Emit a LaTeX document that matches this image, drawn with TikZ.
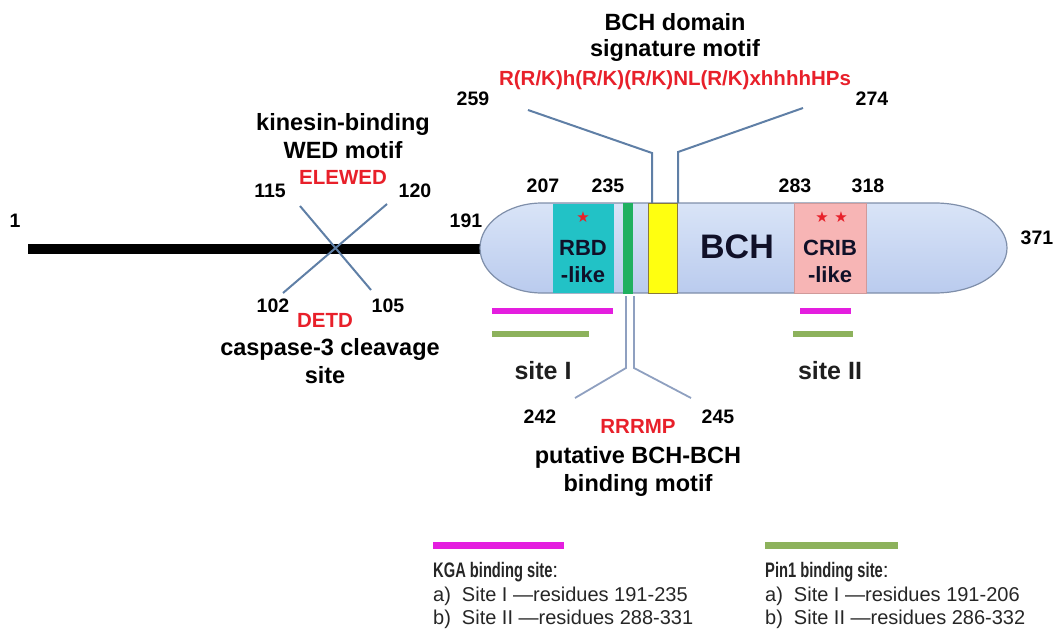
\documentclass[tikz,border=0pt]{standalone}
\usepackage{fontspec}
\setmainfont{Liberation Sans}
\newfontfamily\symfont{DejaVu Sans}
\usepackage{graphicx}
\definecolor{capTop}{HTML}{D9E4F7}
\definecolor{capBot}{HTML}{BACBEE}
\definecolor{capEdge}{HTML}{7F8FAA}
\definecolor{rbd}{HTML}{22C2C6}
\definecolor{gbar}{HTML}{20B060}
\definecolor{ybox}{HTML}{FFFF10}
\definecolor{yedge}{HTML}{8A7A3A}
\definecolor{crib}{HTML}{F7B5B5}
\definecolor{cribEdge}{HTML}{D09A9A}
\definecolor{conn}{HTML}{5F7FA6}
\definecolor{connLight}{HTML}{8FA0C0}
\definecolor{motifRed}{HTML}{E8202A}
\definecolor{kgaMagenta}{HTML}{E41EDF}
\definecolor{pinGreen}{HTML}{8DB25C}
\definecolor{bchText}{HTML}{101028}
\newcommand\myfs[1]{\fontsize{#1}{#1}\selectfont}
\begin{document}
\begin{tikzpicture}[x=1pt,y=-1pt,
  num/.style={font=\myfs{19.5}\bfseries, inner sep=0pt, anchor=base},
  ttl/.style={font=\myfs{23.5}\bfseries, inner sep=0pt, anchor=base},
  motif/.style={font=\myfs{20.5}\bfseries, text=motifRed, inner sep=0pt, anchor=base},
  dom/.style={font=\myfs{22}\bfseries, inner sep=0pt, anchor=base, text=bchText},
  sitelbl/.style={font=\myfs{25}\bfseries, inner sep=0pt, anchor=base, text=black!88},
  starlbl/.style={font=\myfs{15}\symfont, text=motifRed, inner sep=0pt},
  conline/.style={draw=conn, line width=2pt},
  conlight/.style={draw=connLight, line width=1.8pt},
  sitebar/.style={line width=6pt},
  legtitle/.style={font=\myfs{21}, inner sep=0pt, anchor=base west, text=black!85},
  legline/.style={font=\myfs{20}, inner sep=0pt, anchor=base west, text=black!85},
]
\useasboundingbox (0,0) rectangle (1059,637);
% backbone
\coordinate (bbStart) at (28,249);
\coordinate (bbEnd) at (500,249);
\draw[line width=10pt, black] (bbStart) -- (bbEnd);
% capsule (BCH domain)
\path[top color=capTop, bottom color=capBot, draw=capEdge, line width=1.2pt]
  (542,203) -- (935,203) arc[start angle=90, end angle=-90, x radius=72pt, y radius=45pt]
  -- (542,293) arc[start angle=270, end angle=90, x radius=62pt, y radius=45pt] -- cycle;
% inner boxes
\node[fill=rbd, minimum width=61pt, minimum height=89pt, inner sep=0pt, anchor=north west] (rbdbox) at (553,203.5) {};
\node[fill=gbar, minimum width=10pt, minimum height=91pt, inner sep=0pt, anchor=north west] (gbarbox) at (623,203) {};
\node[fill=ybox, draw=yedge, line width=1pt, minimum width=29pt, minimum height=90pt, inner sep=0pt, anchor=north west] (ybox) at (648,203) {};
\node[fill=crib, draw=cribEdge, line width=0.8pt, minimum width=72pt, minimum height=90pt, inner sep=0pt, anchor=north west] (cribbox) at (794,203) {};
% domain labels
\node[dom] (rbdA) at (583,255) {RBD};
\node[dom] (rbdB) at (583,282) {-like};
\node[dom] (cribA) at (830,255) {CRIB};
\node[dom] (cribB) at (830,282) {-like};
\node[font=\myfs{34}\bfseries, inner sep=0pt, anchor=base, text=bchText] (bch) at (737,258) {BCH};
\node[starlbl] (star1) at (583,217) {★};
\node[starlbl] (star2) at (822,217) {★};
\node[starlbl] (star3) at (841,217) {★};
% residue numbers
\node[num] (n1) at (15,227) {1};
\node[num] (n191) at (466,227) {191};
\node[num] (n371) at (1037,244) {371};
\node[num] (n207) at (543,192) {207};
\node[num] (n235) at (608,192) {235};
\node[num] (n283) at (795,192) {283};
\node[num] (n318) at (868,192) {318};
\node[num] (n259) at (473,105) {259};
\node[num] (n274) at (872,105) {274};
\node[num] (n115) at (270,197) {115};
\node[num] (n120) at (415,197) {120};
\node[num] (n102) at (273,312) {102};
\node[num] (n105) at (388,312) {105};
\node[num] (n242) at (540,423) {242};
\node[num] (n245) at (718,423) {245};
% kinesin-binding motif
\node[ttl] (kinA) at (343,130.5) {kinesin-binding};
\node[ttl] (kinB) at (343,158.5) {WED motif};
\node[motif] (elewed) at (343,184) {ELEWED};
\coordinate (k1) at (300,206);
\coordinate (k2) at (371,290);
\coordinate (k3) at (387,204);
\coordinate (k4) at (283,293);
\draw[conline] (k1) -- (k2);
\draw[conline] (k3) -- (k4);
% caspase site
\node[motif] (detd) at (325,327) {DETD};
\node[ttl] (casA) at (330,355.5) {caspase-3 cleavage};
\node[ttl] (casB) at (325,383) {site};
% BCH signature motif
\node[ttl] (sigA) at (675,30.5) {BCH domain};
\node[ttl] (sigB) at (675,56.5) {signature motif};
\node[motif] (sigM) at (675,85) {R(R/K)h(R/K)(R/K)NL(R/K)xhhhhHPs};
\coordinate (s1) at (528,110);
\coordinate (s2) at (652,153);
\coordinate (s3) at (652,203);
\coordinate (s4) at (803,108);
\coordinate (s5) at (678,152);
\coordinate (s6) at (678,203);
\draw[conline] (s1) -- (s2) -- (s3);
\draw[conline] (s4) -- (s5) -- (s6);
% putative BCH-BCH binding motif
\coordinate (p1) at (626,296);
\coordinate (p2) at (626,368);
\coordinate (p3) at (575,398);
\coordinate (p4) at (634,296);
\coordinate (p5) at (634,368);
\coordinate (p6) at (691,398);
\draw[conlight] (p1) -- (p2) -- (p3);
\draw[conlight] (p4) -- (p5) -- (p6);
\node[motif] (rrrmp) at (638,433) {RRRMP};
\node[ttl] (putA) at (638,463.5) {putative BCH-BCH};
\node[ttl] (putB) at (638,491.5) {binding motif};
% binding site bars
\coordinate (kI1) at (492,311); \coordinate (kI2) at (613,311);
\coordinate (pI1) at (492,334); \coordinate (pI2) at (589,334);
\coordinate (kII1) at (800,311); \coordinate (kII2) at (851,311);
\coordinate (pII1) at (793,334); \coordinate (pII2) at (853,334);
\draw[sitebar, draw=kgaMagenta] (kI1) -- (kI2);
\draw[sitebar, draw=pinGreen] (pI1) -- (pI2);
\draw[sitebar, draw=kgaMagenta] (kII1) -- (kII2);
\draw[sitebar, draw=pinGreen] (pII1) -- (pII2);
\node[sitelbl] (siteI) at (543,379) {site I};
\node[sitelbl] (siteII) at (830,379) {site II};
% legend
\coordinate (lk1) at (433,545); \coordinate (lk2) at (564,545);
\coordinate (lp1) at (765,545); \coordinate (lp2) at (898,545);
\draw[line width=7pt, draw=kgaMagenta] (lk1) -- (lk2);
\draw[line width=7pt, draw=pinGreen] (lp1) -- (lp2);
\node[legtitle] (kgaT) at (433,577) {\scalebox{0.7}[1]{\textbf{KGA binding site}}:};
\node[legline] (kgaA) at (433,601) {a)\hspace{11pt}Site I \textemdash residues 191-235};
\node[legline] (kgaB) at (433,624) {b)\hspace{11pt}Site II \textemdash residues 288-331};
\node[legtitle] (pinT) at (765,577) {\scalebox{0.7}[1]{\textbf{Pin1 binding site}}:};
\node[legline] (pinA) at (765,601) {a)\hspace{11pt}Site I \textemdash residues 191-206};
\node[legline] (pinB) at (765,624) {b)\hspace{11pt}Site II \textemdash residues 286-332};
\end{tikzpicture}
\end{document}
